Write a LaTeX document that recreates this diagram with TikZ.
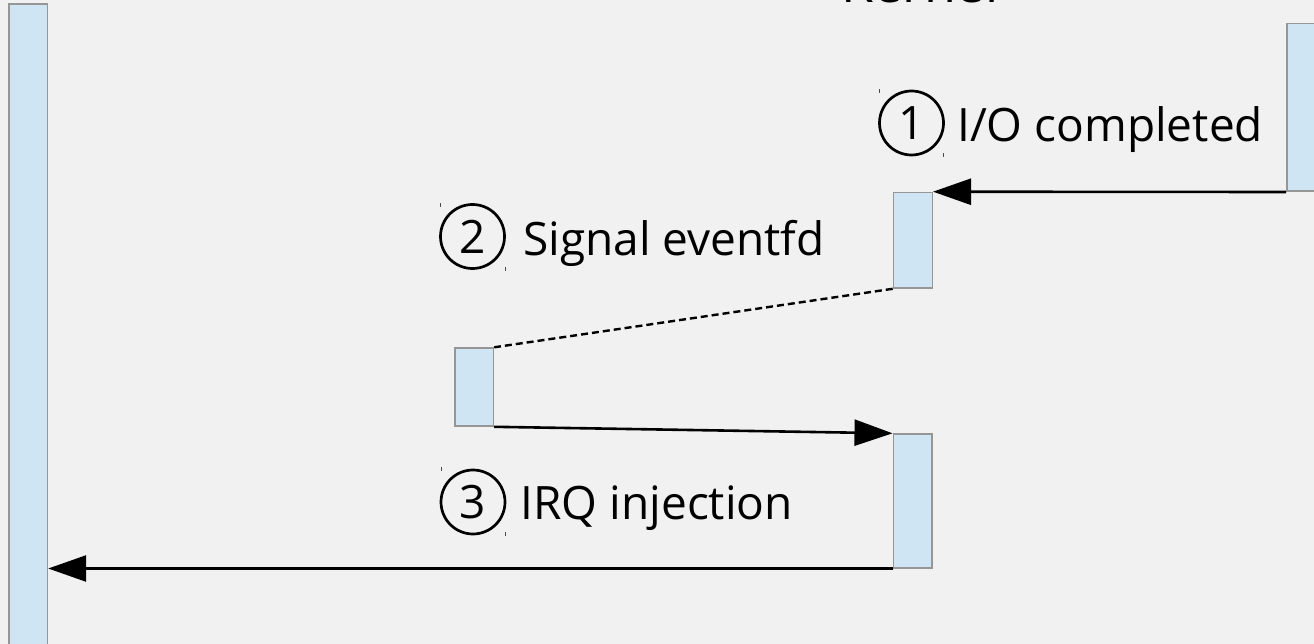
\documentclass[tikz,border=0pt]{standalone}
\usepackage{fontspec}
\setmainfont{Open Sans}
\usetikzlibrary{arrows.meta}
\definecolor{bg}{RGB}{241,241,241}
\definecolor{boxfill}{RGB}{207,229,243}
\definecolor{boxline}{RGB}{150,150,150}
\tikzset{
  bar/.style={draw=boxline, fill=boxfill, line width=1.5pt, rectangle, inner sep=0pt, anchor=north west},
  msg/.style={line width=2.6pt, -{Triangle[length=38pt,width=26pt]}},
  reply/.style={line width=2.4pt, dash pattern=on 7pt off 4pt},
  lbl/.style={inner sep=0pt, anchor=base west, font=\fontsize{46}{50}\selectfont},
  num/.style={draw, circle, line width=2.7pt, minimum size=64pt, inner sep=0pt, font=\fontsize{46}{50}\selectfont},
  tickmark/.style={line width=0.8pt, draw=black!70}
}
\begin{document}
\begin{tikzpicture}[x=1pt,y=-1pt]
\useasboundingbox (0,0) rectangle (1314,644);
\clip (0,0) rectangle (1314,644);
\fill[bg] (0,0) rectangle (1314,644);
% title
\node[inner sep=0pt, anchor=base, font=\fontsize{52}{56}\selectfont] (kernel) at (920,2.7) {Kernel};
% lifeline bars
\node[bar, minimum width=38.4pt, minimum height=660pt] (guest) at (8.3,3.3) {};
\node[bar, minimum width=50pt, minimum height=167.8pt] (dev) at (1286,22.7) {};
\node[bar, minimum width=38.8pt, minimum height=95.6pt] (k1) at (892.7,191.7) {};
\node[bar, minimum width=38.7pt, minimum height=78pt] (u1) at (454,347.3) {};
\node[bar, minimum width=38.8pt, minimum height=133.7pt] (k2) at (892.5,433.3) {};
% connectors
\draw[msg] (dev.south west) -- (k1.north east);
\draw[reply] (k1.south west) -- (u1.north east);
\draw[msg] (u1.south east) -- (k2.north west);
\draw[msg] (k2.south west) -- (k2.south west -| guest.east);
% step labels
\node[num] (n1) at (911.5,123) {1};
\node[lbl] (t1) at (957,141.7) {I/O completed};
\node[num] (n2) at (472.5,236.5) {2};
\node[lbl] (t2) at (523,256) {Signal eventfd};
\node[num] (n3) at (473,502) {3};
\node[lbl] (t3) at (520.5,519) {IRQ injection};
% text frame corner marks
\draw[tickmark] (879.5,89) -- (879.5,93);
\draw[tickmark] (943.8,153) -- (943.8,157);
\draw[tickmark] (440.7,203) -- (440.7,207);
\draw[tickmark] (505,267) -- (505,271);
\draw[tickmark] (441,467) -- (441,471);
\draw[tickmark] (505,532) -- (505,536);
\end{tikzpicture}
\end{document}
